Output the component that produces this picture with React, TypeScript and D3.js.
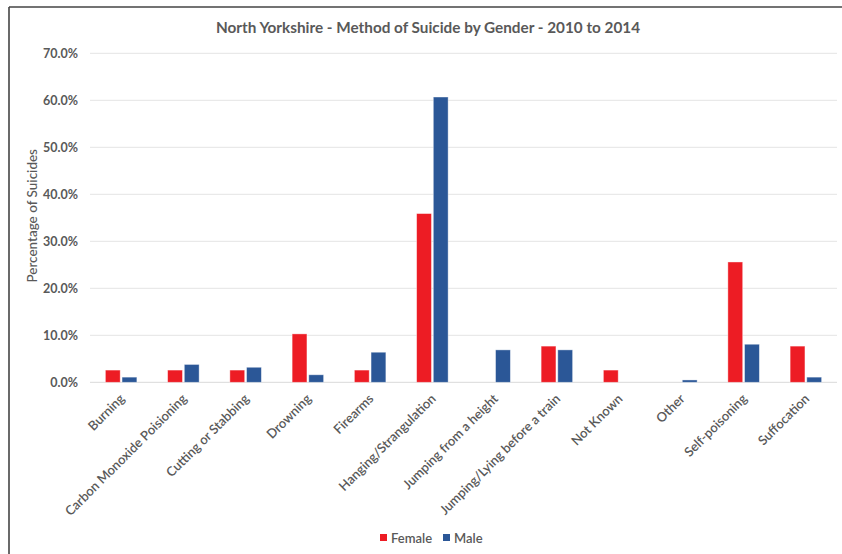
import React from "react";
import * as d3 from "d3";

const categories = [
  "Burning",
  "Carbon Monoxide Poisioning",
  "Cutting or Stabbing",
  "Drowning",
  "Firearms",
  "Hanging/Strangulation",
  "Jumping from a height",
  "Jumping/Lying before a train",
  "Not Known",
  "Other",
  "Self-poisoning",
  "Suffocation",
];

const female = [2.6, 2.6, 2.6, 10.3, 2.6, 35.9, 0, 7.7, 2.6, 0, 25.6, 7.7];
const male = [1.1, 3.8, 3.2, 1.6, 6.4, 60.7, 6.9, 6.9, 0, 0.5, 8.1, 1.1];

const yTicks = [0, 10, 20, 30, 40, 50, 60, 70];

const series = [
  { name: "Female", values: female, color: "#ED1C24" },
  { name: "Male", values: male, color: "#2B5797" },
];

const W = 842;
const H = 554;
const plot = { left: 90, right: 837, top: 53.3, bottom: 382.3 };
const FONT = "Lato, 'Open Sans', sans-serif";
const TEXT = "#595959";

export default function App() {
  const x = d3
    .scaleBand<string>()
    .domain(categories)
    .range([plot.left, plot.right])
    .paddingInner(0)
    .paddingOuter(0);
  const y = d3.scaleLinear().domain([0, 70]).range([plot.bottom, plot.top]);

  const barW = 14;
  const gap = 3.5;
  const inner = d3
    .scaleBand<string>()
    .domain(series.map((s) => s.name))
    .range([0, barW * 2 + gap])
    .paddingInner(gap / (barW + gap / 2) / 2);

  return (
    <svg
      width={W}
      height={H}
      style={{ position: "absolute", left: 0, top: 0, background: "#fff" }}
      fontFamily={FONT}
    >
      {/* frame */}
      <line x1={9} x2={W} y1={7} y2={7} stroke="#444" strokeWidth={1.6} />
      <line x1={9} x2={9} y1={7} y2={H} stroke="#444" strokeWidth={1.6} />

      <text
        x={428}
        y={33}
        textAnchor="middle"
        fontSize={15.3}
        fontWeight={700}
        fill={TEXT}
      >
        North Yorkshire - Method of Suicide by Gender - 2010 to 2014
      </text>

      {/* gridlines and y tick labels */}
      {yTicks.map((t) => (
        <g key={t}>
          <line
            x1={plot.left}
            x2={plot.right}
            y1={y(t)}
            y2={y(t)}
            stroke={t === 0 ? "#d9d9d9" : "#e4e4e4"}
            strokeWidth={1}
          />
          <text
            x={78}
            y={y(t)}
            dy="0.35em"
            textAnchor="end"
            fontSize={12.5}
            fontWeight={700}
            fill={TEXT}
          >
            {d3.format(".1f")(t) + "%"}
          </text>
        </g>
      ))}

      <text
        transform={`translate(37, ${(plot.top + plot.bottom) / 2 - 2}) rotate(-90)`}
        textAnchor="middle"
        fontSize={13.5}
        fontWeight={500}
        fill={TEXT}
      >
        Percentage of Suicides
      </text>

      {/* bars */}
      {categories.map((c, i) => {
        const cx = (x(c) ?? 0) + x.bandwidth() / 2;
        const start = cx - (barW * 2 + gap) / 2;
        return (
          <g key={c}>
            {series.map((s) => {
              const v = s.values[i];
              if (v <= 0) return null;
              return (
                <rect
                  key={s.name}
                  x={start + (inner(s.name) ?? 0)}
                  y={y(v)}
                  width={inner.bandwidth()}
                  height={y(0) - y(v)}
                  fill={s.color}
                  stroke="#ffffff"
                  strokeOpacity={0.5}
                  strokeWidth={0.8}
                />
              );
            })}
            <text
              transform={`translate(${cx + 1}, ${plot.bottom + 14}) rotate(-45)`}
              textAnchor="end"
              dy="0.35em"
              fontSize={13}
              fontWeight={600}
              fill={TEXT}
            >
              {c}
            </text>
          </g>
        );
      })}

      {/* legend */}
      {series.map((s, i) => {
        const lx = i === 0 ? 380 : 443;
        return (
          <g key={s.name} transform={`translate(${lx}, 0)`}>
            <rect x={0} y={534} width={7} height={7} fill={s.color} />
            <text
              x={11}
              y={538}
              dy="0.35em"
              fontSize={13}
              fontWeight={600}
              fill={TEXT}
            >
              {s.name}
            </text>
          </g>
        );
      })}
    </svg>
  );
}
